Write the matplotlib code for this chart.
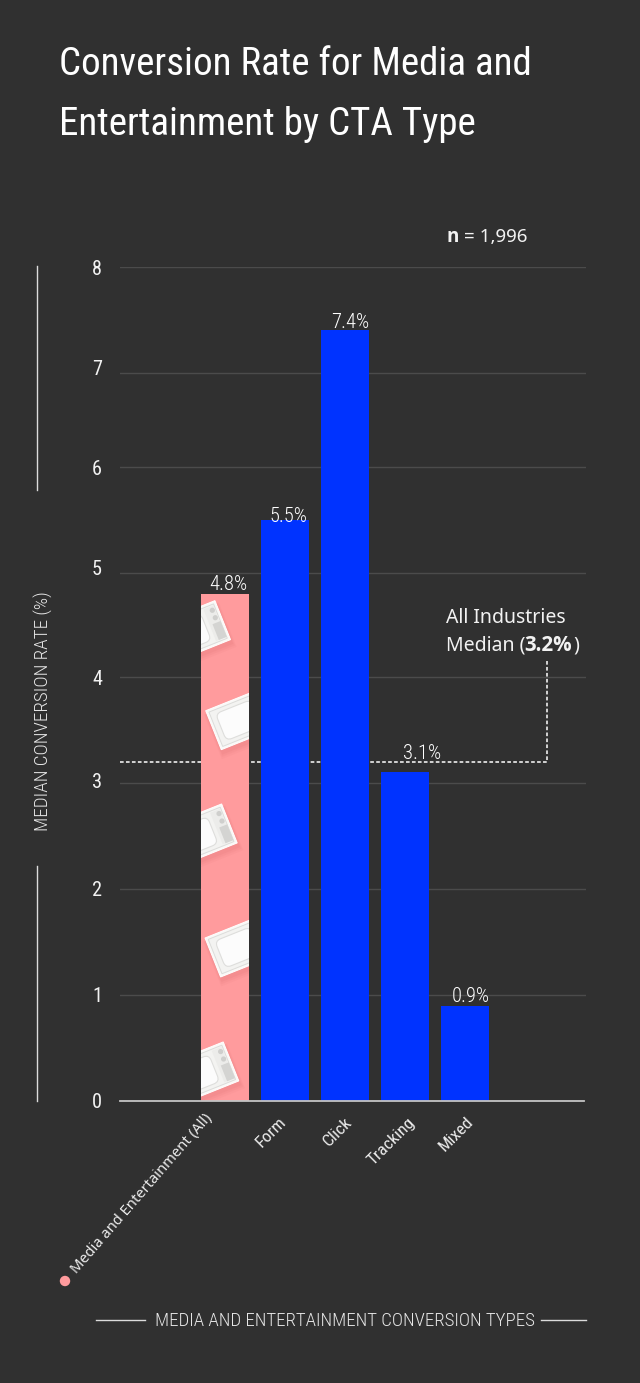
import numpy as np
import matplotlib
matplotlib.use("Agg")
import matplotlib.pyplot as plt
from matplotlib.patches import Rectangle, FancyBboxPatch, Circle
from matplotlib.transforms import Affine2D, ScaledTranslation

W, H = 640, 1383
BG = "#303030"
PINK = "#ff9b9d"
BLUE = "#0033ff"
TEXT = "#f2f2f2"
COND = "Roboto Condensed"

categories = ["Media and Entertainment (All)", "Form", "Click", "Tracking", "Mixed"]
rates = [4.8, 5.5, 7.4, 3.1, 0.9]
rate_labels = ["4.8%", "5.5%", "7.4%", "3.1%", "0.9%"]
all_median = 3.2
y_ticks = [0, 1, 2, 3, 4, 5, 6, 7, 8]

# the axis spacing is uneven between 6 and 7
scale_vals = [0, 1, 2, 3, 4, 5, 6, 7, 8]
scale_pos = [0, 105.7, 211.7, 318, 423.7, 528, 633.7, 728, 833.7]

fig = plt.figure(figsize=(W / 100, H / 100), dpi=100, facecolor=BG)
px = Affine2D().scale(1, -1).translate(0, H)


def put(x, y, s, **kw):
    kw.setdefault("color", TEXT)
    kw.setdefault("va", "baseline")
    return fig.text(x, y, s, transform=px, **kw)


ax = fig.add_axes([120 / W, 1 - 1100.7 / H, 466 / W, 833.7 / H], facecolor=BG)
ax.set_yscale("function", functions=(
    lambda v: np.interp(v, scale_vals, scale_pos),
    lambda p: np.interp(p, scale_pos, scale_vals),
))
ax.set_xlim(-1.758, 6.009)
ax.set_ylim(0, 8)

xs = np.arange(len(categories))
colors = [PINK] + [BLUE] * 4
bars = ax.bar(xs, rates, width=0.8, color=colors, zorder=3)

# grid and axis
ax.set_yticks(y_ticks)
ax.set_yticks([], minor=True)
ax.grid(axis="y", color="#4b4b4b", linewidth=1.0, zorder=1)
ax.set_axisbelow(True)
for side in ["top", "left", "right"]:
    ax.spines[side].set_visible(False)
ax.spines["bottom"].set_color("#c4c4c4")
ax.spines["bottom"].set_linewidth(1.3)
ax.spines["bottom"].set_bounds(-1.758, 5.975)
ax.spines["bottom"].set_zorder(4)

ax.tick_params(axis="y", length=0, pad=13, labelsize=14.6, labelcolor=TEXT)
ax.tick_params(axis="x", length=0)
ytick_shift = [0.7, 1, 0, 2, -1, 4.7, -1, 4.7, -1]
for lab, dy in zip(ax.get_yticklabels(), ytick_shift):
    lab.set_family(COND)
    lab.set_transform(lab.get_transform() + ScaledTranslation(0, dy / 100, fig.dpi_scale_trans))

ax.set_xticks(xs)
ax.set_xticklabels([])
xlab_end = [(210, 1116), (284, 1120), (350, 1120), (413, 1120), (471, 1119)]
for name, (ex, ey), i in zip(categories, xlab_end, xs):
    fam = "Noto Sans" if i == 0 else COND
    ang = 49 if i == 0 else 45
    size = 10.6 if i == 0 else 12.6
    put(ex, ey, name, family=fam, fontsize=size, rotation=ang, rotation_mode="anchor",
        ha="right", va="center", color="#ececec")

# value labels sit a little off the bar centre
label_dx = [2.5, 3, 4.5, 17, 5]
label_gap = [3.8, -1.8, 2.4, 13, 3.6]
for x, v, s, dx, gap in zip(xs, rates, rate_labels, label_dx, label_gap):
    ax.annotate(s, (x, v), xytext=(dx * 0.72, gap * 0.72), textcoords="offset points",
                ha="center", va="baseline", family=COND, weight=300, fontsize=14.8,
                color="white", zorder=5)

# all industries median with its leader going up to the note
ax.plot([-1.758, 5.36, 5.36], [all_median, all_median, 4.16], color="white", linewidth=1.1,
        dashes=(2.4, 1.5), zorder=2)
put(446, 622.7, "All Industries", family="Noto Sans", fontsize=14)
put(446, 651, "Median (", family="Noto Sans", fontsize=14)
put(524, 651, "3.2%", family="Open Sans", weight=700, fontsize=14.8)
put(573, 651, ")", family="Noto Sans", fontsize=14)
put(446, 242.5, "n", family="Open Sans", weight=700, fontsize=13.5)
put(464, 242.5, "= 1,996", family="Noto Sans", fontsize=13.5)


def draw_tv(corner, clip):
    # small tilted television, origin at its top left corner, y running down
    tr = Affine2D().rotate_deg(-21.8).translate(*corner) + px
    w, h = 64, 42

    def add(p):
        p.set_transform(tr)
        ax.add_patch(p)
        p.set_clip_path(clip)
        p.set_zorder(3.5)
        return p

    for grow, alpha in [(6, 0.07), (4, 0.09), (2, 0.11)]:
        add(Rectangle((-grow / 2, 3), w + grow, h + grow, color="#d96a6c", alpha=alpha, lw=0))
    add(Rectangle((0, 0), w, h, facecolor="#f9f9f7", edgecolor="#ffffff", lw=0.7))
    add(Rectangle((2.5, 2.5), w - 5, h - 5, facecolor="#f3f3f1", edgecolor="#dcdcda", lw=0.7))
    add(FancyBboxPatch((8, 6.5), 38, 29, boxstyle="round,pad=0,rounding_size=6",
                       facecolor="#fcfcfc", edgecolor="#dededc", lw=0.8))
    add(Rectangle((50, 4), 10.5, 34, facecolor="#ececea", lw=0))
    add(Circle((w - 6, 8), 2.6, facecolor="#cfcfcd", lw=0))
    add(Circle((w - 6, 16), 2.6, facecolor="#cfcfcd", lw=0))
    add(Rectangle((w - 11, 21), 8.5, 17, facecolor="#d4d4d2", lw=0))


tv_corners = [(155.5, 624.4), (205.7, 710.7), (162.2, 827.7), (205, 938), (163.8, 1065.7)]
for c in tv_corners:
    draw_tv(c, bars[0])

# bracket lines and axis titles
for x0, y0, x1, y1 in [(36.7, 266, 36.7, 490), (36.7, 866, 36.7, 1101), (96, 1320, 145, 1320), (541, 1320, 586, 1320)]:
    fig.add_artist(plt.Line2D([x0, x1], [y0, y1], transform=px, color="#dcdcdc", linewidth=1.0))
put(43, 711.5, "MEDIAN CONVERSION RATE (%)", family=COND, weight=300, fontsize=13.8, rotation=90,
    ha="center", va="center", color="#e6e6e6")
put(345, 1320.5, "MEDIA AND ENTERTAINMENT CONVERSION TYPES", family=COND, weight=300, fontsize=13.6,
    ha="center", va="center", color="#e6e6e6")

fig.add_artist(Circle((65, 1281), 5.2, transform=px, facecolor=PINK, lw=0))

# title
put(59, 75, "Conversion Rate for Media and", family=COND, weight=400, fontsize=28.1, color="white")
put(59, 135, "Entertainment by CTA Type", family=COND, weight=400, fontsize=28.1, color="white")

fig.savefig("out.png", dpi=100, facecolor=BG)
